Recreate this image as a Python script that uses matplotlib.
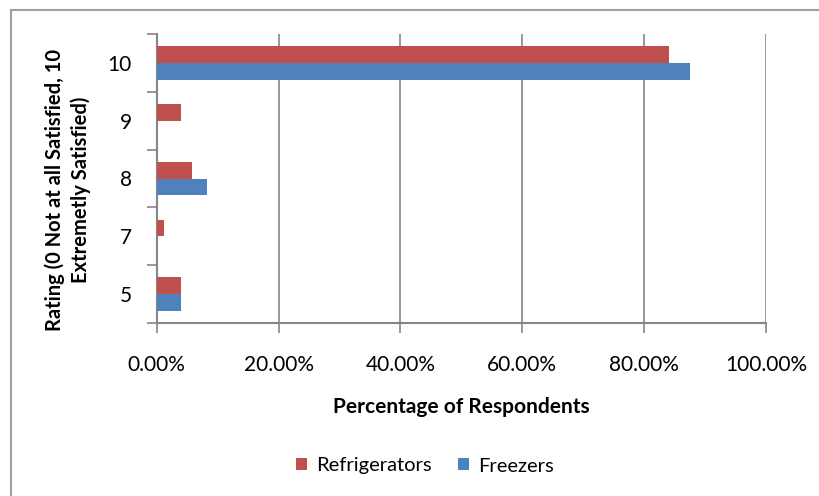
import matplotlib
matplotlib.use("Agg")
import matplotlib.pyplot as plt
from matplotlib.lines import Line2D
from matplotlib.patches import Patch
from matplotlib.ticker import FuncFormatter, FixedLocator

plt.rcParams['font.family'] = ['Lato', 'DejaVu Sans']

ratings = ["5", "7", "8", "9", "10"]
refrigerators = [4.0, 1.2, 5.8, 4.0, 84.0]
freezers = [4.0, 0.0, 8.3, 0.0, 87.5]
x_ticks = [0, 20, 40, 60, 80, 100]

RED = "#C0504D"
BLUE = "#4F81BD"
GRID = "#868686"

fig = plt.figure(figsize=(8.2, 4.96), dpi=100)
ax_left, ax_right, ax_top, ax_bottom = 156.8, 766.0, 34.0, 323.0
ax = fig.add_axes([ax_left / 820, 1 - ax_bottom / 496, (ax_right - ax_left) / 820,
                   (ax_bottom - ax_top) / 496])

pos = list(range(len(ratings)))
h = 0.29
ax.barh([p + h / 2 for p in pos], refrigerators, height=h, color=RED, label="Refrigerators", zorder=3)
ax.barh([p - h / 2 for p in pos], freezers, height=h, color=BLUE, label="Freezers", zorder=3)

ax.set_xlim(0, 100)
ax.set_ylim(-0.5, len(ratings) - 0.5)

ax.xaxis.set_major_locator(FixedLocator(x_ticks))
ax.xaxis.set_major_formatter(FuncFormatter(lambda v, _: f"{v:.2f}%"))
ax.grid(axis="x", color=GRID, linewidth=1.2, zorder=0)

ax.set_yticks(pos)
ax.set_yticklabels(ratings)
ax.set_yticks([p - 0.5 for p in pos] + [len(ratings) - 0.5], minor=True)
ax.tick_params(axis="y", which="major", length=0, pad=18, labelsize=15)
ax.tick_params(axis="y", which="minor", length=7, width=1.2, color=GRID, direction="out")
ax.tick_params(axis="x", which="major", length=7, width=1.2, color=GRID, direction="out",
               pad=16, labelsize=15)

for side in ("top", "right"):
    ax.spines[side].set_visible(False)
for side in ("left", "bottom"):
    ax.spines[side].set_color(GRID)
    ax.spines[side].set_linewidth(1.5)

ax.set_xlabel("Percentage of Respondents", fontsize=15, fontweight="bold", labelpad=16)
ax.set_ylabel("Rating (0 Not at all Satisfied, 10\nExtremetly Satisfied)", fontsize=14.5,
              fontweight="bold", linespacing=1.3)
ax.yaxis.set_label_coords(-(ax_left - 91) / (ax_right - ax_left), 0.46)

handles = [Patch(facecolor=RED, label="Refrigerators"), Patch(facecolor=BLUE, label="Freezers")]
fig.legend(handles=handles, loc="center", bbox_to_anchor=(425 / 820, 1 - 466 / 496), ncol=2,
           frameon=False, fontsize=14.5, handlelength=0.55, handleheight=0.55, handletextpad=0.45,
           columnspacing=1.3)

# chart area border (top and left edges)
fig.add_artist(Line2D([11 / 820, 1], [1 - 10 / 496, 1 - 10 / 496], color="#A0A0A0", linewidth=1.5,
                      transform=fig.transFigure))
fig.add_artist(Line2D([11 / 820, 11 / 820], [0, 1 - 10 / 496], color="#A0A0A0", linewidth=1.5,
                      transform=fig.transFigure))

fig.savefig("out.png", dpi=100)
